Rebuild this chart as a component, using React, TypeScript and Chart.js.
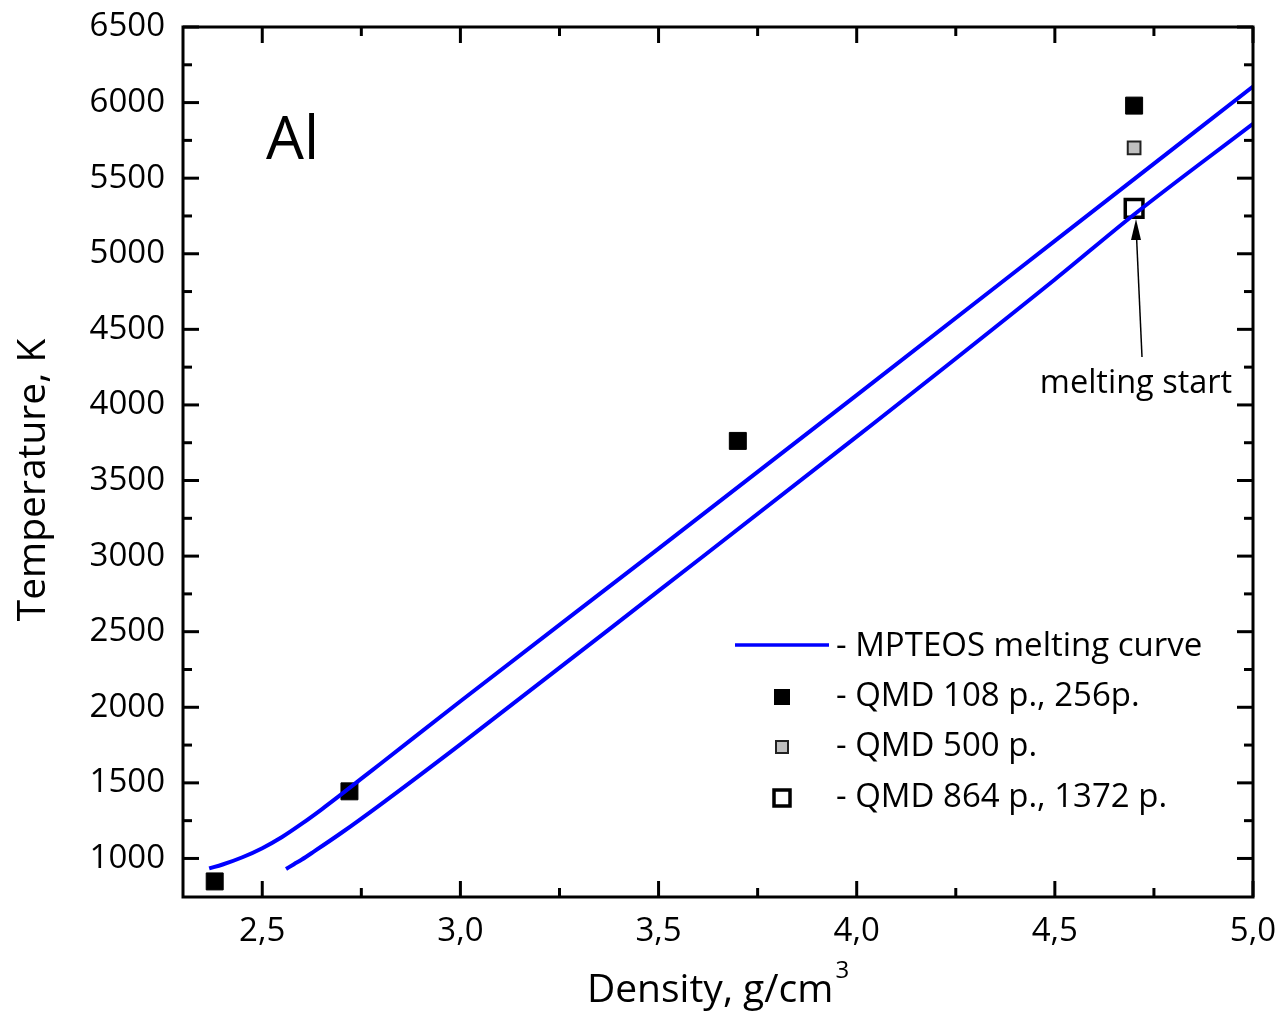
import React, { useEffect, useRef } from "react";
import { Chart, registerables } from "chart.js";

Chart.register(...registerables);

// ---- Data ----
const upperDensity = [2.366, 2.4, 2.45, 2.5, 2.55, 2.6, 2.65, 2.7, 2.75, 2.8, 3.0, 3.5, 4.0, 4.5, 5.0];
const upperTemp = [934, 960, 1008, 1068, 1142, 1230, 1325, 1425, 1528, 1630, 2040, 3050, 4065, 5085, 6106];

const lowerDensity = [2.56, 2.58, 2.6, 2.63, 2.7, 2.8, 3.0, 3.5, 4.0, 4.5, 4.7, 5.0];
const lowerTemp = [930, 962, 993, 1045, 1170, 1360, 1755, 2770, 3790, 4830, 5260, 5860];

const qmdSmallDensity = [2.38, 2.72, 3.7, 4.7];
const qmdSmallTemp = [848, 1444, 3762, 5980];

const qmd500Density = [4.7];
const qmd500Temp = [5700];

const qmd864Density = [4.7];
const qmd864Temp = [5300];

const xTickValues = [2.5, 3.0, 3.5, 4.0, 4.5, 5.0];
const xMinorValues = [2.75, 3.25, 3.75, 4.25, 4.75];
const yTickValues = [1000, 1500, 2000, 2500, 3000, 3500, 4000, 4500, 5000, 5500, 6000, 6500];
const yMinorValues = [1250, 1750, 2250, 2750, 3250, 3750, 4250, 4750, 5250, 5750, 6250];

const legendLabels = [
  "- MPTEOS melting curve",
  "- QMD 108 p., 256p.",
  "- QMD 500 p.",
  "- QMD 864 p., 1372 p.",
];

const FONT = "'Open Sans', 'Noto Sans', sans-serif";

const toPts = (xs: number[], ys: number[]) => xs.map((x, i) => ({ x, y: ys[i] }));

const decorPlugin = {
  id: "decor",
  afterDraw(chart: any) {
    const { ctx, chartArea: a, scales } = chart;
    const xs = scales.x;
    const ys = scales.y;
    ctx.save();
    ctx.strokeStyle = "#000";
    ctx.lineWidth = 3;
    ctx.lineCap = "butt";
    const seg = (x1: number, y1: number, x2: number, y2: number) => {
      ctx.beginPath();
      ctx.moveTo(x1, y1);
      ctx.lineTo(x2, y2);
      ctx.stroke();
    };
    const major = 16;
    const minor = 9;
    xTickValues.forEach((v) => {
      const p = xs.getPixelForValue(v);
      seg(p, a.bottom, p, a.bottom - major);
      seg(p, a.top, p, a.top + major);
    });
    xMinorValues.forEach((v) => {
      const p = xs.getPixelForValue(v);
      seg(p, a.bottom, p, a.bottom - minor);
      seg(p, a.top, p, a.top + minor);
    });
    yTickValues.forEach((v) => {
      const p = ys.getPixelForValue(v);
      seg(a.left, p, a.left + major, p);
      seg(a.right, p, a.right - major, p);
    });
    yMinorValues.forEach((v) => {
      const p = ys.getPixelForValue(v);
      seg(a.left, p, a.left + minor, p);
      seg(a.right, p, a.right - minor, p);
    });
    ctx.strokeRect(a.left, a.top, a.right - a.left, a.bottom - a.top);

    // Axis titles
    ctx.fillStyle = "#000";
    ctx.textBaseline = "alphabetic";
    ctx.font = `39px ${FONT}`;
    const main = "Density, g/cm";
    const wMain = ctx.measureText(main).width;
    ctx.font = `24px ${FONT}`;
    const wSup = ctx.measureText("3").width;
    const cx = 718;
    const startX = cx - (wMain + wSup + 2) / 2;
    ctx.font = `39px ${FONT}`;
    ctx.textAlign = "left";
    ctx.fillText(main, startX, 1002);
    ctx.font = `24px ${FONT}`;
    ctx.fillText("3", startX + wMain + 2, 978);

    ctx.save();
    ctx.translate(34, 480);
    ctx.rotate(-Math.PI / 2);
    ctx.font = `39px ${FONT}`;
    ctx.textAlign = "center";
    ctx.textBaseline = "middle";
    ctx.fillText("Temperature, K", 0, 0);
    ctx.restore();

    // "Al" label
    ctx.font = `60px ${FONT}`;
    ctx.textAlign = "left";
    ctx.textBaseline = "alphabetic";
    ctx.fillText("Al", 266, 159);

    // Arrow annotation
    ctx.lineWidth = 1.5;
    seg(1142, 357, 1136.5, 236);
    ctx.beginPath();
    ctx.moveTo(1136, 219);
    ctx.lineTo(1131, 240);
    ctx.lineTo(1141, 240);
    ctx.closePath();
    ctx.fill();
    ctx.font = `32.5px ${FONT}`;
    ctx.textAlign = "center";
    ctx.fillText("melting start", 1136, 393);

    // Legend
    const lx = 782;
    const rows = [647, 697, 747, 798];
    ctx.strokeStyle = "#0000ff";
    ctx.lineWidth = 3.5;
    seg(735, 645, 829, 645);
    ctx.fillStyle = "#000";
    ctx.fillRect(lx - 8, rows[1] - 8, 16, 16);
    ctx.fillStyle = "#c0c0c0";
    ctx.strokeStyle = "#222";
    ctx.lineWidth = 2;
    ctx.fillRect(lx - 6, rows[2] - 6, 12, 12);
    ctx.strokeRect(lx - 6, rows[2] - 6, 12, 12);
    ctx.fillStyle = "#fff";
    ctx.strokeStyle = "#000";
    ctx.lineWidth = 3.5;
    ctx.fillRect(lx - 8, rows[3] - 8, 16, 16);
    ctx.strokeRect(lx - 8, rows[3] - 8, 16, 16);
    ctx.fillStyle = "#000";
    ctx.font = `33px ${FONT}`;
    ctx.textAlign = "left";
    ctx.textBaseline = "middle";
    legendLabels.forEach((t, i) => ctx.fillText(t, 836, rows[i]));
    ctx.restore();
  },
};

export default function App() {
  const ref = useRef<HTMLCanvasElement | null>(null);
  useEffect(() => {
    document.body.style.margin = "0";
    const canvas = ref.current;
    if (!canvas) return;
    const chart = new Chart(canvas, {
      type: "scatter",
      data: {
        datasets: [
          {
            label: "MPTEOS melting curve (upper)",
            data: toPts(upperDensity, upperTemp),
            showLine: true,
            borderColor: "#0000ff",
            borderWidth: 4,
            pointRadius: 0,
            cubicInterpolationMode: "monotone",
          },
          {
            label: "MPTEOS melting curve (lower)",
            data: toPts(lowerDensity, lowerTemp),
            showLine: true,
            borderColor: "#0000ff",
            borderWidth: 4,
            pointRadius: 0,
            cubicInterpolationMode: "monotone",
          },
          {
            label: "QMD 108 p., 256p.",
            data: toPts(qmdSmallDensity, qmdSmallTemp),
            pointStyle: "rect",
            pointRadius: 12,
            backgroundColor: "#000",
            borderColor: "#000",
            borderWidth: 1,
          },
          {
            label: "QMD 500 p.",
            data: toPts(qmd500Density, qmd500Temp),
            pointStyle: "rect",
            pointRadius: 9,
            backgroundColor: "#c0c0c0",
            borderColor: "#222",
            borderWidth: 2,
          },
          {
            label: "QMD 864 p., 1372 p.",
            data: toPts(qmd864Density, qmd864Temp),
            pointStyle: "rect",
            pointRadius: 12.5,
            backgroundColor: "#fff",
            borderColor: "#000",
            borderWidth: 3.5,
          },
        ],
      },
      options: {
        responsive: false,
        animation: false,
        events: [],
        layout: { padding: { top: 27, right: 29, left: 0, bottom: 0 } },
        plugins: { legend: { display: false }, tooltip: { enabled: false } },
        scales: {
          x: {
            type: "linear",
            min: 2.3,
            max: 5.0,
            afterBuildTicks: (s: any) => {
              s.ticks = xTickValues.map((v) => ({ value: v }));
            },
            afterFit: (s: any) => {
              s.height = 115;
              s.paddingLeft = 0;
              s.paddingRight = 0;
            },
            grid: { display: false, drawTicks: false },
            border: { display: false },
            ticks: {
              autoSkip: false,
              maxRotation: 0,
              padding: 15,
              color: "#000",
              font: { family: FONT, size: 33 },
              callback: (v: any) => Number(v).toFixed(1).replace(".", ","),
            },
          },
          y: {
            type: "linear",
            min: 745,
            max: 6500,
            afterBuildTicks: (s: any) => {
              s.ticks = yTickValues.map((v) => ({ value: v }));
            },
            afterFit: (s: any) => {
              s.width = 183;
              s.paddingTop = 0;
              s.paddingBottom = 0;
            },
            grid: { display: false, drawTicks: false },
            border: { display: false },
            ticks: {
              autoSkip: false,
              padding: 18,
              color: "#000",
              font: { family: FONT, size: 33 },
              callback: (v: any) => String(v),
            },
          },
        },
      },
      plugins: [decorPlugin],
    });
    return () => chart.destroy();
  }, []);
  return (
    <div style={{ width: 1282, height: 1012, background: "#fff" }}>
      <canvas ref={ref} width={1282} height={1012} style={{ display: "block", width: 1282, height: 1012 }} />
    </div>
  );
}
